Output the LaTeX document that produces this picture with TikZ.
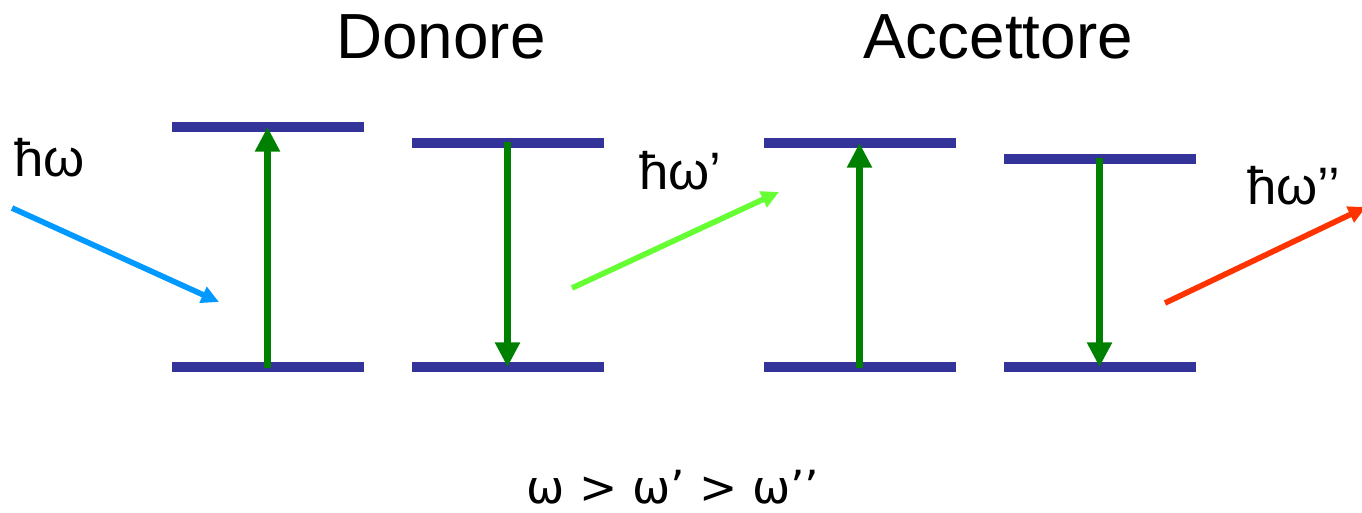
\documentclass[tikz,border=0pt]{standalone}
\usepackage{fontspec}
\setmainfont{Liberation Sans}
\newfontfamily\widefont{DejaVu Sans}
\usepackage{xcolor}
\definecolor{ink}{HTML}{000000}
\definecolor{level}{HTML}{333399}
\definecolor{trans}{HTML}{008000}
\definecolor{pump}{HTML}{0099FF}
\definecolor{relay}{HTML}{66FF33}
\definecolor{emit}{HTML}{FF3300}
\usetikzlibrary{arrows.meta}

\begin{document}
\begin{tikzpicture}[
    x=0.02cm, y=-0.02cm,
    level/.style={draw=level, line width=5.6pt},
    trans/.style={draw=trans, line width=4.4pt, -{Triangle[length=14pt,width=13.5pt]}},
    photon/.style={line width=3.2pt, -{Triangle[length=10pt,width=9.5pt]}},
    title/.style={font=\fontsize{36.3}{40}\selectfont, text=ink, anchor=base, inner sep=0pt},
    label/.style={font=\fontsize{30}{34}\selectfont, text=ink, anchor=base west, inner sep=0pt}
]
\useasboundingbox (0,0) rectangle (1362,512);

% Energy levels: donor pair, then acceptor pair.
\foreach \n/\xa/\yt in {d1/172/127, d2/412/143, a1/764/143, a2/1004/159} {
    \draw[level] (\xa,\yt) -- ++(192,0);
    \draw[level] (\xa,367) -- ++(192,0);
    \coordinate (\n-up) at (\xa+95.5,\yt);
    \coordinate (\n-lo) at (\xa+95.5,367);
}

% Transitions.
\draw[trans] ([yshift=-0.5pt]d1-lo) -- (d1-up);
\draw[trans] ([yshift=0.5pt]d2-up) -- (d2-lo);
\draw[trans] ([yshift=-0.5pt]a1-lo) -- (a1-up);
\draw[trans] ([yshift=0.5pt]a2-up) -- (a2-lo);

% Photons in and out.
\coordinate (in-s) at (12,208);
\coordinate (in-e) at (219,302);
\coordinate (mid-s) at (572,288);
\coordinate (mid-e) at (779,192);
\coordinate (out-s) at (1165,303);
\coordinate (out-e) at (1366,207);
\draw[photon, draw=pump] (in-s) -- (in-e);
\draw[photon, draw=relay] (mid-s) -- (mid-e);
\draw[photon, draw=emit] (out-s) -- (out-e);

\node[label] (l-in) at (14,176) {ħω};
\node[label] (l-mid) at (639,189) {ħω’};
\node[label] (l-out) at (1247,204) {ħω’’};

\node[title] (donor) at (441,58) {Donore};
\node[title] (acceptor) at (998,58) {Accettore};
\node[font=\widefont\fontsize{26}{30}\selectfont, text=ink, anchor=base, inner sep=0pt] (order) at (673,503) {ω > ω’ > ω’’};
\end{tikzpicture}
\end{document}
